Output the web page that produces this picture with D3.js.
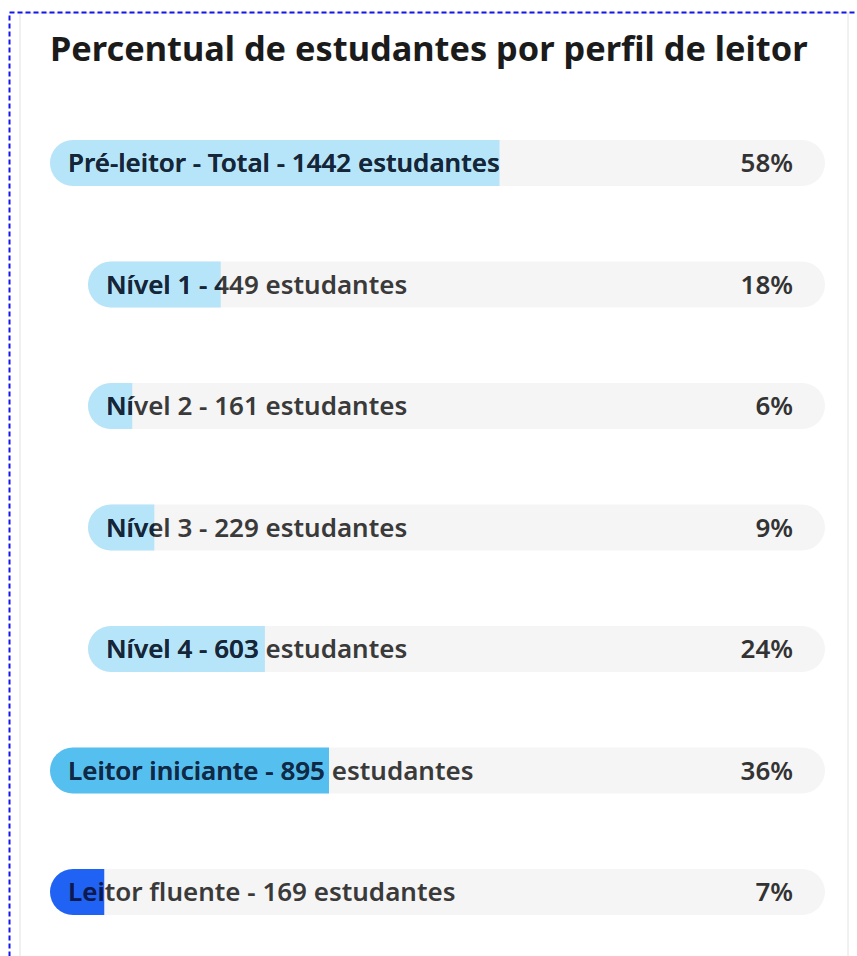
<!DOCTYPE html>
<html>
<head>
<meta charset="utf-8">
<script src="https://cdn.jsdelivr.net/npm/d3@7"></script>
<style>
  html, body { margin: 0; padding: 0; background: #ffffff; }
  svg { display: block; }
</style>
</head>
<body>
<svg id="chart" width="857" height="956"></svg>
<script>
// ---- data ----
const title = "Percentual de estudantes por perfil de leitor";
const categories = [
  "Pré-leitor - Total - 1442 estudantes",
  "Nível 1 - 449 estudantes",
  "Nível 2 - 161 estudantes",
  "Nível 3 - 229 estudantes",
  "Nível 4 - 603 estudantes",
  "Leitor iniciante - 895 estudantes",
  "Leitor fluente - 169 estudantes"
];
const percents = [58, 18, 6, 9, 24, 36, 7];
const percentLabels = ["58%", "18%", "6%", "9%", "24%", "36%", "7%"];
const levels = [0, 1, 1, 1, 1, 0, 0];
const groups = ["pre", "pre", "pre", "pre", "pre", "ini", "flu"];

// ---- styles ----
const fillColor = d3.scaleOrdinal().domain(["pre", "ini", "flu"]).range(["#b6e4f8", "#55bff0", "#1f62f4"]);
const inkColor = d3.scaleOrdinal().domain(["pre", "ini", "flu"]).range(["#14263a", "#0d2a48", "#0a1a55"]);
const FONT = "'Noto Sans', 'Open Sans', sans-serif";

const svg = d3.select("#chart");

// frame
svg.append("rect").attr("x", 20).attr("y", 13).attr("width", 828).attr("height", 960)
  .attr("fill", "#fff").attr("stroke", "#ececec").attr("stroke-width", 1.5);
svg.append("rect").attr("x", 9.5).attr("y", 12.5).attr("width", 900).attr("height", 1000)
  .attr("fill", "none").attr("stroke", "#1414f0").attr("stroke-width", 2)
  .attr("stroke-dasharray", "5,3");

// title
const t = svg.append("text").text(title)
  .attr("x", 50).attr("y", 61)
  .attr("font-family", FONT)
  .attr("font-weight", 700).attr("font-size", 28).attr("fill", "#1b1b1b");
{
  const len = t.node().getComputedTextLength();
  t.attr("font-size", 28 * 758 / len);
}

// layout
const trackEnd = 825;
const startFor = d3.scaleOrdinal().domain([0, 1]).range([50, 88]);
const y = d3.scalePoint().domain(d3.range(categories.length)).range([163, 892]);
const barH = 46, r = barH / 2;

const rows = categories.map((c, i) => ({
  i, label: c, pct: percents[i], pctLabel: percentLabels[i],
  level: levels[i], group: groups[i]
}));

const defs = svg.append("defs");

// label font size fit
const probe = svg.append("text").text(categories[0])
  .attr("font-family", FONT).attr("font-weight", 600).attr("font-size", 20);
const labelSize = 20 * 432 / probe.node().getComputedTextLength();
probe.remove();

rows.forEach(d => {
  const x0 = startFor(d.level);
  const x = d3.scaleLinear().domain([0, 100]).range([x0, trackEnd]);
  const cy = y(d.i);
  const g = svg.append("g");

  // track
  g.append("rect").attr("x", x(0)).attr("y", cy - r).attr("width", x(100) - x(0)).attr("height", barH)
    .attr("rx", r).attr("fill", "#f5f5f5");

  // fill: rounded left, square right
  const path = d3.path();
  path.moveTo(x(d.pct), cy - r);
  path.lineTo(x(0) + r, cy - r);
  path.arc(x(0) + r, cy, r, -Math.PI / 2, Math.PI / 2, true);
  path.lineTo(x(d.pct), cy + r);
  path.closePath();
  g.append("path").attr("d", path.toString()).attr("fill", fillColor(d.group));

  const clipId = "clip" + d.i;
  defs.append("clipPath").attr("id", clipId)
    .append("path").attr("d", path.toString());

  const tx = x0 + 18;
  g.append("text").text(d.label)
    .attr("x", tx).attr("y", cy).attr("dy", "0.35em")
    .attr("font-family", FONT).attr("font-weight", 600)
    .attr("font-size", labelSize).attr("fill", "#3a3a3a");
  g.append("text").text(d.label)
    .attr("x", tx).attr("y", cy).attr("dy", "0.35em")
    .attr("clip-path", `url(#${clipId})`)
    .attr("font-family", FONT).attr("font-weight", 600)
    .attr("font-size", labelSize).attr("fill", inkColor(d.group));

  g.append("text").text(d.pctLabel)
    .attr("x", 793).attr("y", cy).attr("dy", "0.35em").attr("text-anchor", "end")
    .attr("font-family", FONT).attr("font-weight", 600)
    .attr("font-size", labelSize).attr("fill", "#333");
});
</script>
</body>
</html>
